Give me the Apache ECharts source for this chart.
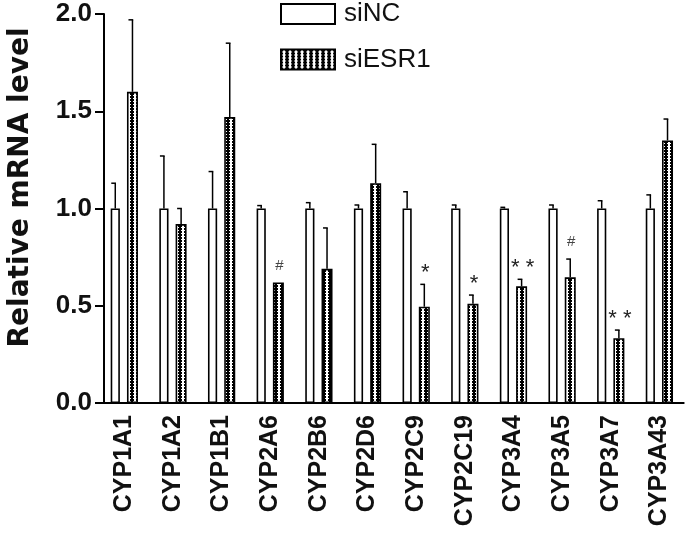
<!DOCTYPE html>
<html>
<head>
<meta charset="utf-8">
<script src="https://cdn.jsdelivr.net/npm/echarts@6/dist/echarts.min.js"></script>
<style>
html,body{margin:0;padding:0;background:#fff;}
#chart{width:690px;height:543px;}
</style>
</head>
<body>
<div id="chart"></div>
<script>
// ---- data ----
const categories = ['CYP1A1','CYP1A2','CYP1B1','CYP2A6','CYP2B6','CYP2D6','CYP2C9','CYP2C19','CYP3A4','CYP3A5','CYP3A7','CYP3A43'];
const siNC      = [1.00, 1.00, 1.00, 1.00, 1.00, 1.00, 1.00, 1.00, 1.00, 1.00, 1.00, 1.00];
const siNCSD    = [0.13, 0.27, 0.19, 0.015, 0.03, 0.018, 0.086, 0.018, 0.006, 0.018, 0.04, 0.07];
const siESR1    = [1.60, 0.92, 1.47, 0.62, 0.69, 1.13, 0.495, 0.51, 0.60, 0.646, 0.333, 1.35];
const siESR1SD  = [0.37, 0.08, 0.38, 0.00, 0.21, 0.20, 0.115, 0.045, 0.036, 0.094, 0.042, 0.11];
const marks     = ['', '', '', '#', '', '', '*', '*', '**', '#', '**', ''];
const yTicks    = [0, 0.5, 1.0, 1.5, 2.0];

// ---- styles ----
const FONT = '"Liberation Sans", Arial, sans-serif';
const WIDE = '"DejaVu Sans", sans-serif';
const W1 = 9.2, W2 = 11, GAP = 0.77;
const total = W1 + W1 * GAP + W2;
const off1 = -total / 2 + W1 / 2;
const off2 = -total / 2 + W1 * (1 + GAP) + W2 / 2;

function makePattern() {
  const c = document.createElement('canvas');
  c.width = 6; c.height = 3;
  const ctx = c.getContext('2d');
  ctx.fillStyle = '#fff';
  ctx.fillRect(0, 0, 6, 3);
  ctx.fillStyle = '#000';
  ctx.fillRect(0, 0, 2, 2);
  ctx.fillRect(4, 0, 2, 2);
  ctx.fillRect(0, 2, 1, 1);
  ctx.fillRect(5, 2, 1, 1);
  return c;
}
const pattern = { image: makePattern(), repeat: 'repeat' };

function errSeries(vals, sds, offset, labels) {
  return {
    type: 'custom',
    silent: true,
    z: 5,
    data: categories.map((c, i) => [i, vals[i], vals[i] + sds[i]]),
    renderItem: function (params, api) {
      const i = api.value(0);
      const p0 = api.coord([i, api.value(1)]);
      const p1 = api.coord([i, api.value(2)]);
      const x = p0[0] + offset;
      const children = [];
      if (p0[1] - p1[1] > 0.5) {
        children.push({ type: 'line', shape: { x1: x, y1: p0[1], x2: x, y2: p1[1] }, style: { stroke: '#000', lineWidth: 1.5 } });
        children.push({ type: 'line', shape: { x1: x - 4, y1: p1[1], x2: x + 0.75, y2: p1[1] }, style: { stroke: '#000', lineWidth: 1.5 } });
      }
      const lab = labels ? labels[params.dataIndex] : '';
      if (lab) {
        const star = lab.indexOf('*') >= 0;
        children.push({
          type: 'text',
          style: {
            text: lab.split('').join(' '), x: x + 1, y: p1[1] - (star ? 11 : 17),
            align: 'center', verticalAlign: 'middle',
            font: (star ? '22px ' : '15px ') + FONT,
            fill: star ? '#222' : '#444'
          }
        });
      }
      return { type: 'group', children: children };
    }
  };
}

const chart = echarts.init(document.getElementById('chart'), null, { renderer: 'canvas' });
chart.setOption({
  animation: false,
  backgroundColor: '#fff',
  grid: { left: 100, top: 14, width: 583.7, height: 389, containLabel: false, outerBoundsMode: 'none' },
  legend: {
    data: ['siNC', 'siESR1'],
    orient: 'vertical',
    left: 280, top: 1, padding: 0,
    itemWidth: 54, itemHeight: 20, itemGap: 19.5,
    icon: 'rect',
    textStyle: { fontSize: 26, fontFamily: FONT, color: '#111', padding: [0, 0, 0, 4] }
  },
  xAxis: {
    type: 'category',
    data: categories,
    axisLine: { lineStyle: { color: '#000', width: 2 } },
    axisTick: { show: false },
    axisLabel: { rotate: 90, margin: 12, fontSize: 25, fontWeight: 'bold', fontFamily: FONT, color: '#111', interval: 0 }
  },
  yAxis: {
    type: 'value',
    min: yTicks[0], max: yTicks[yTicks.length - 1], interval: 0.5,
    offset: -4,
    name: 'Relative mRNA level',
    nameLocation: 'middle',
    nameGap: 69,
    nameTextStyle: { fontSize: 28, fontWeight: 'bold', fontFamily: WIDE, color: '#111', padding: [0, 0, 0, 42] },
    axisLine: { show: true, lineStyle: { color: '#000', width: 2 } },
    axisTick: { show: true, length: 9, lineStyle: { color: '#000', width: 2 } },
    splitLine: { show: false },
    axisLabel: { margin: 12, fontSize: 26, fontWeight: 'bold', fontFamily: FONT, color: '#111',
      formatter: v => v.toFixed(1) }
  },
  series: [
    {
      name: 'siNC', type: 'bar', data: siNC, barWidth: W1, barGap: (GAP * 100) + '%',
      itemStyle: { color: '#fff', borderColor: '#000', borderWidth: 1.6 }
    },
    {
      name: 'siESR1', type: 'bar', data: siESR1, barWidth: W2, barGap: (GAP * 100) + '%',
      itemStyle: { color: pattern, borderColor: '#000', borderWidth: 1.6 }
    },
    errSeries(siNC, siNCSD, off1, null),
    errSeries(siESR1, siESR1SD, off2, marks)
  ]
});
</script>
</body>
</html>
